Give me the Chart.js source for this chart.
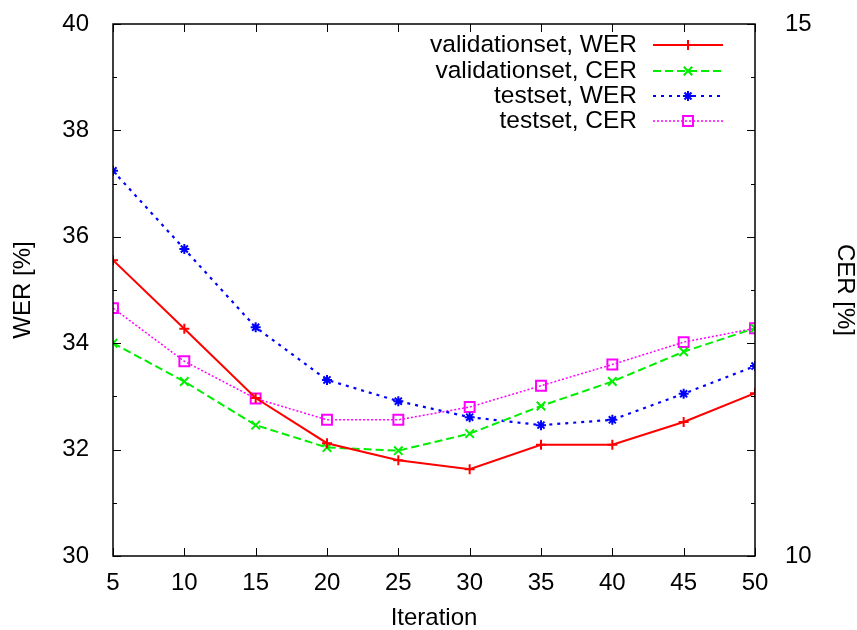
<!DOCTYPE html>
<html>
<head>
<meta charset="utf-8">
<script src="https://cdn.jsdelivr.net/npm/chart.js@4/dist/chart.umd.min.js"></script>
<style>
  html, body { margin: 0; padding: 0; background: #fff; }
  canvas { display: block; }
</style>
</head>
<body>
<canvas id="c" width="857" height="630"></canvas>
<script>
// ---- data ----
const iterations = [5, 10, 15, 20, 25, 30, 35, 40, 45, 50];
const validationWER = [35.56, 34.27, 32.97, 32.12, 31.80, 31.63, 32.09, 32.09, 32.52, 33.06];
const validationCER = [12.00, 11.64, 11.23, 11.02, 10.99, 11.15, 11.41, 11.64, 11.92, 12.14];
const testWER = [37.24, 35.77, 34.30, 33.31, 32.91, 32.61, 32.46, 32.56, 33.05, 33.57];
const testCER = [12.33, 11.83, 11.48, 11.28, 11.28, 11.40, 11.60, 11.80, 12.01, 12.14];
const seriesLabels = ['validationset, WER', 'validationset, CER', 'testset, WER', 'testset, CER'];
const xTitle = 'Iteration';
const yTitle = 'WER [%]';
const y2Title = 'CER [%]';

const FONT = '"Liberation Sans", Arial, Helvetica, sans-serif';
const pts = arr => arr.map((v, i) => ({ x: iterations[i], y: v }));

// frame + inward gnuplot-style ticks
const framePlugin = {
  id: 'frame',
  afterDatasetsDraw(chart) {
    const { ctx, chartArea: a, scales } = chart;
    ctx.save();
    ctx.strokeStyle = '#000';
    ctx.lineWidth = 1.5;
    ctx.strokeRect(a.left, a.top, a.right - a.left, a.bottom - a.top);
    ctx.lineWidth = 1;
    ctx.beginPath();
    iterations.forEach(v => {
      const px = Math.round(scales.x.getPixelForValue(v)) + 0.5;
      ctx.moveTo(px, a.bottom); ctx.lineTo(px, a.bottom - 8);
      ctx.moveTo(px, a.top); ctx.lineTo(px, a.top + 8);
    });
    for (let v = scales.y.min; v <= scales.y.max; v += 1) {
      const py = Math.round(scales.y.getPixelForValue(v)) + 0.5;
      const len = (v % 2 === 0) ? 8 : 4;
      ctx.moveTo(a.left, py); ctx.lineTo(a.left + len, py);
      ctx.moveTo(a.right, py); ctx.lineTo(a.right - len, py);
    }
    ctx.stroke();
    ctx.restore();
  }
};

// gnuplot-style key at top right inside the plot
const keyPlugin = {
  id: 'key',
  afterDraw(chart) {
    const { ctx } = chart;
    const rows = [45, 71, 96, 121];
    ctx.save();
    chart.data.datasets.forEach((ds, i) => {
      const y = rows[i];
      ctx.fillStyle = '#000';
      ctx.font = '24.5px ' + FONT;
      ctx.textAlign = 'right';
      ctx.textBaseline = 'middle';
      ctx.fillText(ds.label, 637, y);
      ctx.strokeStyle = ds.borderColor;
      ctx.lineWidth = ds.borderWidth;
      ctx.setLineDash(ds.borderDash || []);
      ctx.beginPath();
      ctx.moveTo(653, y); ctx.lineTo(723, y);
      ctx.stroke();
      ctx.setLineDash([]);
      ctx.strokeStyle = ds.pointBorderColor;
      ctx.fillStyle = 'rgba(0,0,0,0)';
      ctx.lineWidth = ds.pointBorderWidth;
      Chart.helpers.drawPoint(ctx, {
        pointStyle: ds.pointStyle, radius: ds.pointRadius, rotation: 0,
        borderWidth: ds.pointBorderWidth
      }, 688, y);
    });
    ctx.restore();
  }
};

const mk = (label, data, axis, color, width, dash, style, radius) => ({
  label, data: pts(data), yAxisID: axis,
  borderColor: color, borderWidth: width, borderDash: dash,
  pointStyle: style, pointRadius: radius, pointBorderColor: color,
  pointBackgroundColor: 'rgba(0,0,0,0)', pointBorderWidth: 2,
  fill: false, tension: 0
});

const noPad = s => { s.paddingTop = 0; s.paddingBottom = 0; s.paddingLeft = 0; s.paddingRight = 0; };

new Chart(document.getElementById('c'), {
  type: 'line',
  data: {
    datasets: [
      mk(seriesLabels[0], validationWER, 'y', '#ff0000', 2, [], 'cross', 5),
      mk(seriesLabels[1], validationCER, 'y2', '#00ee00', 2, [8, 4], 'crossRot', 6),
      mk(seriesLabels[2], testWER, 'y', '#0000ff', 2.2, [3, 5], 'star', 5),
      mk(seriesLabels[3], testCER, 'y2', '#ff00ff', 1.5, [2, 2], 'rect', 7)
    ]
  },
  options: {
    responsive: false,
    devicePixelRatio: 1,
    animation: false,
    layout: { padding: { top: 24, left: 0, right: 0, bottom: 0 } },
    plugins: { legend: { display: false }, tooltip: { enabled: false } },
    scales: {
      x: {
        type: 'linear', min: 5, max: 50,
        grid: { display: false }, border: { display: false },
        ticks: { stepSize: 5, color: '#000', font: { family: FONT, size: 24 }, padding: 5, maxRotation: 0 },
        title: { display: true, text: xTitle, color: '#000', font: { family: FONT, size: 24, lineHeight: 1 }, padding: { top: 0, bottom: 0 } },
        afterFit(s) { s.height = 74; noPad(s); }
      },
      y: {
        position: 'left', min: 30, max: 40,
        grid: { display: false }, border: { display: false },
        ticks: { stepSize: 2, color: '#000', font: { family: FONT, size: 24 }, padding: 16 },
        title: { display: true, text: yTitle, color: '#000', font: { family: FONT, size: 24, lineHeight: 1 }, padding: { top: 11, bottom: 0 } },
        afterFit(s) { s.width = 113; noPad(s); }
      },
      y2: {
        position: 'right', min: 10, max: 15,
        grid: { display: false }, border: { display: false },
        ticks: { stepSize: 5, color: '#000', font: { family: FONT, size: 24 }, padding: 22 },
        title: { display: true, text: y2Title, color: '#000', font: { family: FONT, size: 24, lineHeight: 1 }, padding: { top: 0, bottom: 0 } },
        afterFit(s) { s.width = 102; noPad(s); }
      }
    }
  },
  plugins: [framePlugin, keyPlugin]
});
</script>
</body>
</html>
